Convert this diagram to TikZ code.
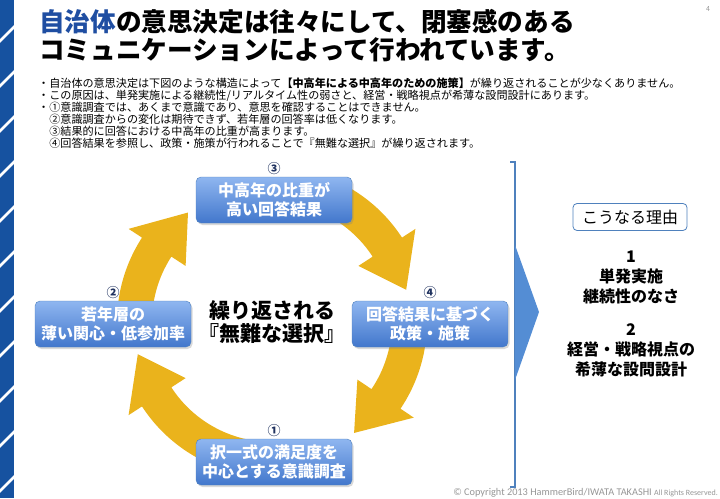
\documentclass[tikz,border=0pt]{standalone}
\usepackage{fontspec}
\setmainfont{Noto Sans CJK JP}
\newfontfamily\copyfont{Carlito}
\usepackage{xcolor}
\definecolor{jpblue}{RGB}{22,82,160}
\definecolor{jptitle}{RGB}{31,78,162}
\definecolor{jpgold}{RGB}{234,179,28}
\definecolor{jpline}{RGB}{79,129,189}
\definecolor{jptop}{RGB}{143,182,240}
\definecolor{jpbot}{RGB}{66,119,204}
\definecolor{jpnavy}{RGB}{32,50,95}
\definecolor{jpgray}{RGB}{150,150,150}
\definecolor{jpwedge}{RGB}{84,141,212}
\usetikzlibrary{arrows.meta,positioning,calc,shadows}

\begin{document}
\begin{tikzpicture}[x=1pt, y=1pt,
  cycbox/.style={draw=jpline, rounded corners=5pt, top color=jptop, bottom color=jpbot, minimum width=156pt, minimum height=46pt, align=center, inner sep=2pt, font=\fontsize{16}{19}\selectfont\bfseries, text=white, drop shadow={shadow xshift=1.5pt, shadow yshift=-2pt, opacity=0.3}},
  stepnum/.style={font=\fontsize{13}{13}\selectfont\bfseries, text=jpnavy, inner sep=1pt},
  reason/.style={align=center, font=\fontsize{16}{20}\selectfont\bfseries},
  reasonbox/.style={draw=jpline, line width=0.8pt, rounded corners=4pt, fill=white, minimum width=114pt, minimum height=27pt, font=\fontsize{16}{18}\selectfont}
]
  \useasboundingbox (0,0) rectangle (720,-498);

  %% Left stripe
  \fill[jpblue] (0,0) rectangle (14,-498);
  \foreach \y in {42,87,...,492}
    \draw[white, line width=2.5pt] (-1,-\y) -- (15,-\y+16);

  %% Title
  \node[anchor=west, align=left, inner sep=0pt, font=\fontsize{25.6}{28}\selectfont\bfseries] (title) at (39,-36)
    {\textcolor{jptitle}{自治体}の意思決定は往々にして、閉塞感のある\\コミュニケーションによって行われています。};
  \node[font=\fontsize{7}{8}\selectfont, text=jpgray] (page) at (708,-9) {4};

  %% Notes
  \node[anchor=west, align=left, inner sep=0pt, font=\fontsize{11.1}{12}\selectfont] (notes) at (38,-113.5)
    {・自治体の意思決定は下図のような構造によって\textbf{【中高年による中高年のための施策】}が繰り返されることが少なくありません。\\
     ・この原因は、単発実施による継続性/リアルタイム性の弱さと、経営・戦略視点が希薄な設問設計にあります。\\
     ・①意識調査では、あくまで意識であり、意思を確認することはできません。\\
     \phantom{・}②意識調査からの変化は期待できず、若年層の回答率は低くなります。\\
     \phantom{・}③結果的に回答における中高年の比重が高まります。\\
     \phantom{・}④回答結果を参照し、政策・施策が行われることで『無難な選択』が繰り返されます。};

  %% Cycle arrows
  \coordinate (hub) at (272,-322);
  \begin{scope}[shift={(hub)}]
    \foreach \s/\e in {65/33, -5/-34, -100/-147, 185/147}
      \fill[jpgold] (\s:155) arc[start angle=\s, end angle=\e, radius=155] -- (\e:171) -- (\e-19.5:138)
        -- (\e:103) -- (\e:120) arc[start angle=\e, end angle=\s, radius=120] -- cycle;
  \end{scope}

  %% Cycle steps
  \node[cycbox] (b3) at (274,-200) {中高年の比重が\\高い回答結果};
  \node[cycbox] (b2) at (113,-324) {若年層の\\薄い関心・低参加率};
  \node[cycbox] (b4) at (430,-324) {回答結果に基づく\\政策・施策};
  \node[cycbox] (b1) at (274,-462) {択一式の満足度を\\中心とする意識調査};
  \node[stepnum, above=1pt of b1] (n1) {①};
  \node[stepnum, above=1pt of b2] (n2) {②};
  \node[stepnum, above=1pt of b3] (n3) {③};
  \node[stepnum, above=1pt of b4] (n4) {④};
  \node[align=center, font=\fontsize{21}{23}\selectfont\bfseries] (loop) at (hub) {繰り返される\\『無難な選択』};

  %% Bracket
  \draw[jpline, line width=2pt] (510,-162) -- (515,-162) -- (515,-487) -- (510,-487);
  \fill[jpwedge] (515,-245) -- (539,-312) -- (515,-380) -- cycle;

  %% Reasons
  \node[reasonbox] (why) at (630,-217) {こうなる理由};
  \node[reason] (r1) at (631,-277) {1\\単発実施\\継続性のなさ};
  \node[reason] (r2) at (631,-350) {2\\経営・戦略視点の\\希薄な設問設計};

  %% Footer
  \node[anchor=south east, inner sep=1pt, text=jpgray, font=\copyfont\fontsize{10.3}{11}\selectfont] (copy) at (719,-498)
    {© Copyright 2013 HammerBird/IWATA TAKASHI {\fontsize{8}{9}\selectfont All Rights Reserved.}};
\end{tikzpicture}
\end{document}
